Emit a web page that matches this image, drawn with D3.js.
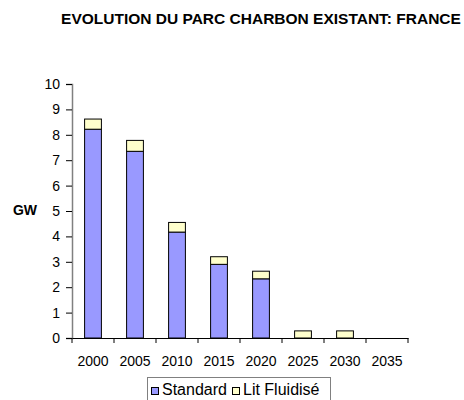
<!DOCTYPE html>
<html>
  <head>
    <meta charset="utf-8">
    <script src="https://cdn.jsdelivr.net/npm/d3@7"></script>
    <style>
      body { margin: 0; background: white; }
      text { font-family: Arial, "Liberation Sans", sans-serif; }
      .axis text { font-size: 14px; fill: black; }
    </style>
  </head>
  <body>
    <div id="chart"></div>
    <script type="text/javascript">
      // data
      var years = ["2000", "2005", "2010", "2015", "2020", "2025", "2030", "2035"];
      var standard = [8.22, 7.35, 4.17, 2.9, 2.33, 0, 0, 0];
      var litFluidise = [0.4, 0.43, 0.38, 0.3, 0.3, 0.28, 0.28, 0];
      var seriesNames = ["Standard", "Lit Fluidisé"];
      var seriesColors = ["#9999FF", "#FFFFCC"];
      var yTicks = [0, 1, 2, 3, 4, 5, 6, 7, 8, 9, 10];

      var svg = d3.select("#chart").append("svg")
          .attr("width", 464)
          .attr("height", 400);

      var x = d3.scaleBand()
          .domain(years)
          .range([72, 408])
          .paddingInner(0.6)
          .paddingOuter(0.3);

      var y = d3.scaleLinear()
          .domain([0, 10])
          .range([338, 84]);

      // Title
      svg.append("text")
         .attr("x", 261)
         .attr("y", 24)
         .attr("text-anchor", "middle")
         .style("font-size", "15.5px")
         .style("font-weight", "bold")
         .text("EVOLUTION DU PARC CHARBON EXISTANT: FRANCE");

      // Y axis
      var yAxis = svg.append("g")
          .attr("class", "axis")
          .attr("transform", "translate(72,0)")
          .call(d3.axisLeft(y).tickValues(yTicks).tickSize(6).tickPadding(6));
      yAxis.select(".domain").attr("stroke", "#808080").attr("stroke-width", 1.5);

      svg.append("text")
         .attr("x", 25)
         .attr("y", 215)
         .attr("text-anchor", "middle")
         .style("font-size", "14px")
         .style("font-weight", "bold")
         .text("GW");

      // stacked data
      var rows = years.map(function(d, i) {
        return { year: d, Standard: standard[i], "Lit Fluidisé": litFluidise[i] };
      });
      var stack = d3.stack().keys(seriesNames)(rows);

      var layers = svg.selectAll(".layer")
          .data(stack)
          .enter().append("g")
          .attr("class", "layer")
          .attr("fill", function(d, i) { return seriesColors[i]; });

      layers.selectAll("rect")
          .data(function(d) { return d.filter(function(p) { return p[1] - p[0] > 0; }); })
          .enter().append("rect")
          .attr("x", function(d) { return x(d.data.year); })
          .attr("width", x.bandwidth())
          .attr("y", function(d) { return y(d[1]); })
          .attr("height", function(d) { return y(d[0]) - y(d[1]); })
          .attr("stroke", "black")
          .attr("stroke-width", 1);

      // X axis
      var xAxis = svg.append("g")
          .attr("class", "axis")
          .attr("transform", "translate(0,338)")
          .call(d3.axisBottom(x).tickSize(0).tickPadding(18));
      xAxis.select(".domain").attr("stroke", "black");
      var step = x.step();
      xAxis.selectAll(".sep")
          .data(d3.range(years.length + 1))
          .enter().append("line")
          .attr("x1", function(i) { return 72 + i * step; })
          .attr("x2", function(i) { return 72 + i * step; })
          .attr("y1", 0)
          .attr("y2", 5)
          .attr("stroke", "black");

      // Legend
      var legend = svg.append("g");
      legend.append("rect")
          .attr("x", 147.5).attr("y", 377.5)
          .attr("width", 183).attr("height", 30)
          .attr("fill", "white")
          .attr("stroke", "#808080");
      var legX = [151, 232];
      seriesNames.forEach(function(name, i) {
        legend.append("rect")
            .attr("x", legX[i] + 0.5).attr("y", 387.5)
            .attr("width", 7).attr("height", 7)
            .attr("fill", seriesColors[i])
            .attr("stroke", "black");
        legend.append("text")
            .attr("x", legX[i] + 11)
            .attr("y", 395)
            .style("font-size", "16px")
            .text(name);
      });
    </script>
  </body>
</html>
